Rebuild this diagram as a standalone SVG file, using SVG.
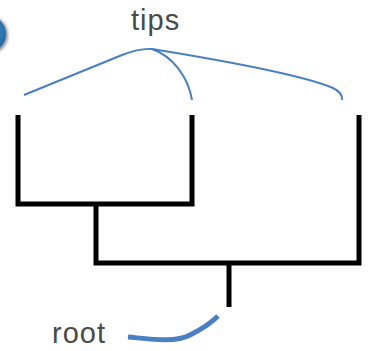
<svg xmlns="http://www.w3.org/2000/svg" width="368" height="351" viewBox="0 0 368 351">
  <style>
    .branch { fill: none; stroke: #000; stroke-width: 5; stroke-linecap: butt; }
    .pointer { fill: none; stroke: #4a7fc1; }
    .label { font-family: "Liberation Sans", "DejaVu Sans", sans-serif; font-size: 29px; fill: #4a4a4a; letter-spacing: 1px; }
  </style>
  <defs>
    <radialGradient id="badge" cx="0.6" cy="0.45" r="0.6">
      <stop offset="0" stop-color="#3a8fd0"/>
      <stop offset="1" stop-color="#1d5f94"/>
    </radialGradient>
    <filter id="soft" x="-50%" y="-50%" width="200%" height="200%">
      <feGaussianBlur stdDeviation="1.5"/>
    </filter>
  </defs>

  <!-- corner badge, mostly off the left edge -->
  <g id="badge-dot">
    <circle cx="-11" cy="35" r="19" fill="#222" opacity="0.5" filter="url(#soft)"/>
    <circle cx="-12" cy="34" r="18" fill="url(#badge)"/>
  </g>

  <!-- tree branches -->
  <g id="tree">
    <path class="branch" d="M18 115 V204 H192 V115"/>
    <path class="branch" d="M96 204 V263 H359 V115"/>
    <path class="branch" d="M229 263 V307"/>
  </g>

  <!-- labels -->
  <g id="tips-label">
    <text class="label" x="131" y="30">tips</text>
  </g>
  <g id="root-label">
    <text class="label" x="52" y="343">root</text>
  </g>

  <!-- pointer lines -->
  <g id="connectors">
    <path class="pointer" stroke-width="2" d="M24 95 L122 55 Q140 48 152 49 C220 60 300 74 333 88 Q343 93 342 100"/>
    <path class="pointer" stroke-width="2" d="M152 49 C172 56 188 76 192 100"/>
    <path class="pointer" stroke-width="5" d="M128 337 C150 339 175 343 190 335 C204 328 212 322 218 316"/>
  </g>
</svg>
